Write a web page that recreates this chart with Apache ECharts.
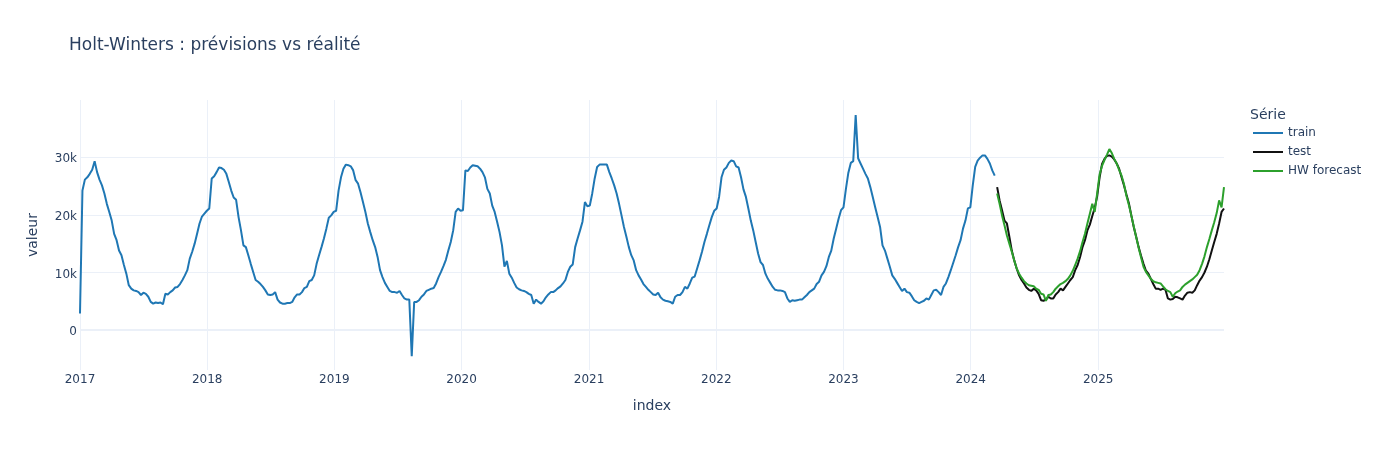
<!DOCTYPE html>
<html>
<head>
<meta charset="utf-8">
<script src="https://cdn.jsdelivr.net/npm/echarts@6/dist/echarts.min.js"></script>
<style>
  html, body { margin: 0; padding: 0; background: #fff; }
  #chart { width: 1379px; height: 450px; }
</style>
</head>
<body>
<div id="chart"></div>
<script>
// ---- Data (weekly, week ending Sunday, first week 2017-01-01) ----
const startDate = '2017-01-01';
const endDate = '2025-12-28';

const train2017 = [2900, 24200, 26100, 26500, 27100, 27800, 29300, 27400, 26100, 25100, 23700, 21900, 20500, 19000, 16700, 15600, 13800, 13000, 11300, 9800, 7800, 7200, 6900, 6800, 6600, 6100, 6500, 6300, 5800, 4900, 4600, 4800, 4700, 4800, 4500, 6300, 6200, 6600, 6900, 7400, 7500, 8000, 8700, 9500, 10400, 12400, 13600, 15000, 16700, 18500, 19700, 20200, 20700];
const train2018 = [21100, 26300, 26700, 27400, 28200, 28100, 27800, 27100, 25700, 24200, 23000, 22600, 19600, 17300, 14700, 14400, 13000, 11500, 10100, 8700, 8400, 8000, 7500, 6900, 6200, 6100, 6200, 6600, 5300, 4800, 4600, 4600, 4700, 4700, 4900, 5700, 6200, 6200, 6600, 7300, 7500, 8500, 8700, 9500, 11500, 13000, 14400, 15900, 17600, 19500, 19900, 20500];
const train2019 = [20700, 24200, 26500, 28000, 28700, 28600, 28400, 27700, 26000, 25400, 23900, 22200, 20500, 18500, 17000, 15600, 14400, 12700, 10400, 9200, 8200, 7500, 6800, 6600, 6600, 6500, 6800, 6100, 5500, 5300, 5300, -4500, 4900, 4900, 5200, 5800, 6200, 6800, 7000, 7200, 7300, 8100, 9200, 10100, 11100, 12200, 13800, 15300, 17300, 20500, 21100, 20700];
const train2020 = [20800, 27700, 27600, 28200, 28600, 28500, 28400, 28000, 27400, 26500, 24500, 23700, 21600, 20500, 18800, 17000, 14700, 11000, 12000, 9800, 9100, 8200, 7400, 7100, 6900, 6800, 6600, 6300, 6100, 4600, 5300, 4900, 4600, 5000, 5700, 6200, 6600, 6600, 6900, 7300, 7600, 8100, 8700, 10100, 11000, 11400, 14400, 15900, 17300, 18800, 22200, 21500];
const train2021 = [21600, 23700, 26300, 28300, 28700, 28700, 28700, 28700, 27400, 26300, 25100, 23700, 21900, 19900, 17900, 16200, 14400, 13000, 12100, 10400, 9500, 8800, 8000, 7500, 7000, 6600, 6200, 6100, 6500, 5700, 5300, 5100, 5000, 4900, 4600, 5800, 6100, 6100, 6600, 7500, 7200, 8100, 9100, 9300, 10700, 12100, 13600, 15300, 16700, 18200, 19600, 20700];
const train2022 = [21100, 23100, 26500, 27800, 28200, 29000, 29400, 29300, 28400, 28200, 26500, 24400, 23100, 21100, 19000, 17300, 15300, 13300, 11800, 11300, 9800, 8900, 8200, 7500, 7000, 6900, 6900, 6800, 6600, 5500, 4900, 5200, 5100, 5200, 5300, 5300, 5700, 6100, 6600, 6900, 7200, 8000, 8400, 9500, 10100, 11100, 12700, 13800, 15900, 17600, 19300, 20800];
const train2023 = [21300, 24500, 27300, 29000, 29300, 37300, 29800, 28900, 28000, 27100, 26300, 24800, 23100, 21300, 19600, 17900, 14700, 13800, 12400, 11000, 9500, 8900, 8200, 7500, 6800, 7200, 6600, 6500, 5900, 5200, 4900, 4700, 4900, 5100, 5500, 5300, 6100, 6900, 7000, 6600, 6100, 7500, 8100, 9200, 10400, 11700, 13000, 14400, 15600, 17600, 19000, 21100, 21300];
const train2024 = [25100, 28300, 29400, 29900, 30300, 30300, 29700, 28900, 27700, 26800];

const test2024 = [24800, 22500, 20800, 19000, 18500, 16200, 13800, 12100, 10700, 9500, 8700, 8100, 7400, 7000, 6800, 7200, 6900, 6300, 5200, 5100, 5300, 5800, 5500, 5500, 6200, 6600, 7200, 6900, 7500, 8100, 8700, 9200, 10400, 11300, 12700, 14400, 15600, 17300, 18300, 19800, 21200, 23200];
const test2025 = [26500, 28800, 29700, 30200, 30300, 30100, 29600, 28900, 28000, 26500, 25100, 23500, 22000, 19900, 17900, 16200, 14400, 12900, 11500, 10300, 9800, 8900, 8000, 7200, 7200, 7000, 7200, 7000, 5500, 5300, 5400, 5800, 5700, 5500, 5300, 6000, 6500, 6600, 6500, 6900, 7800, 8600, 9200, 10000, 11000, 12300, 13800, 15300, 16700, 18500, 20500, 21100];

const hw2024 = [23700, 21900, 19900, 18200, 16400, 15000, 13600, 12100, 10700, 9800, 9100, 8500, 8100, 7800, 7700, 7600, 7200, 7000, 6300, 6200, 5100, 6100, 6200, 6600, 7200, 7600, 8000, 8200, 8500, 8900, 9500, 10300, 11300, 12400, 13700, 15300, 16700, 18500, 20200, 21900, 20500, 23700];
const hw2025 = [27000, 28500, 29500, 30400, 31400, 30700, 29700, 28900, 27800, 26800, 25300, 23300, 21700, 19900, 18000, 16100, 14300, 12600, 11000, 10100, 9500, 8900, 8500, 8300, 8200, 8100, 7600, 7100, 6800, 6600, 5800, 6400, 6700, 6900, 7500, 7900, 8200, 8500, 8800, 9200, 9600, 10400, 11500, 12800, 14400, 15800, 17300, 18700, 20300, 22500, 21300, 24800];

const seriesNames = ['train', 'test', 'HW forecast'];
const yearTicks = ['2017', '2018', '2019', '2020', '2021', '2022', '2023', '2024', '2025'];
const yTickValues = [0, 10000, 20000, 30000];
const yTickLabels = ['0', '10k', '20k', '30k'];

// ---- Build series ----
const WEEK = 7 * 24 * 3600 * 1000;
const t0 = Date.parse(startDate + 'T00:00:00Z');
const trainVals = [].concat(train2017, train2018, train2019, train2020, train2021, train2022, train2023, train2024);
const testVals = [].concat(test2024, test2025);
const hwVals = [].concat(hw2024, hw2025);
const dateAt = i => t0 + i * WEEK;
const trainData = trainVals.map((v, i) => [dateAt(i), v]);
const testData = testVals.map((v, i) => [dateAt(trainVals.length + i), v]);
const hwData = hwVals.map((v, i) => [dateAt(trainVals.length + i), v]);
const xTickValues = yearTicks.map(y => Date.parse(y + '-01-01T00:00:00Z'));

const FONT = '"DejaVu Sans", Verdana, sans-serif';
const TXT = '#2a3f5f';
const GRID = '#EBF0F8';

const chart = echarts.init(document.getElementById('chart'), null, { renderer: 'canvas' });
chart.setOption({
  animation: false,
  backgroundColor: '#fff',
  textStyle: { fontFamily: FONT, color: TXT },
  title: [
    { text: 'Holt-Winters : prévisions vs réalité', left: 69, top: 37, padding: 0,
      textStyle: { fontFamily: FONT, fontSize: 17, fontWeight: 'normal', color: TXT } },
    { text: 'Série', left: 1250, top: 108, padding: 0,
      textStyle: { fontFamily: FONT, fontSize: 14, fontWeight: 'normal', color: TXT } }
  ],
  legend: {
    orient: 'vertical', left: 1252, top: 127, padding: 0,
    itemWidth: 30, itemHeight: 14, itemGap: 7,
    data: seriesNames,
    itemStyle: { opacity: 0 },
    textStyle: { fontFamily: FONT, fontSize: 12, color: TXT }
  },
  grid: { left: 80, right: 155, top: 100, bottom: 80, containLabel: false },
  xAxis: {
    type: 'value',
    min: Date.parse(startDate + 'T00:00:00Z'),
    max: Date.parse(endDate + 'T00:00:00Z'),
    name: 'index', nameLocation: 'middle', nameGap: 29,
    nameTextStyle: { fontFamily: FONT, fontSize: 14, color: TXT },
    axisLine: { show: false },
    axisTick: { show: false, customValues: xTickValues },
    axisLabel: {
      customValues: xTickValues, margin: 4, showMinLabel: true, showMaxLabel: true,
      fontFamily: FONT, fontSize: 12, color: TXT,
      formatter: v => String(new Date(v).getUTCFullYear())
    },
    splitLine: { show: true, lineStyle: { color: GRID, width: 1 } }
  },
  yAxis: {
    type: 'value', min: -6900, max: 39900,
    name: 'valeur', nameLocation: 'middle', nameGap: 40,
    nameTextStyle: { fontFamily: FONT, fontSize: 14, color: TXT },
    axisLine: { show: false },
    axisTick: { show: false, customValues: yTickValues },
    axisLabel: {
      customValues: yTickValues, margin: 3,
      fontFamily: FONT, fontSize: 12, color: TXT,
      formatter: v => '{t|' + yTickLabels[yTickValues.indexOf(v)] + '}',
      rich: { t: { fontFamily: FONT, fontSize: 12, color: TXT, padding: [4, 0, 0, 0] } }
    },
    splitLine: { show: true, lineStyle: { color: GRID, width: 1 } }
  },
  series: [
    { name: seriesNames[0], type: 'line', data: trainData, symbol: 'none', z: 3,
      lineStyle: { color: '#1f77b4', width: 2 }, itemStyle: { color: '#1f77b4' },
      markLine: { silent: true, symbol: 'none', z: 1, label: { show: false },
        lineStyle: { color: GRID, width: 2, type: 'solid' }, data: [{ yAxis: 0 }] } },
    { name: seriesNames[1], type: 'line', data: testData, symbol: 'none', z: 3,
      lineStyle: { color: '#111111', width: 2 }, itemStyle: { color: '#111111' } },
    { name: seriesNames[2], type: 'line', data: hwData, symbol: 'none', z: 4,
      lineStyle: { color: '#2ca02c', width: 2 }, itemStyle: { color: '#2ca02c' } }
  ]
});
</script>
</body>
</html>
